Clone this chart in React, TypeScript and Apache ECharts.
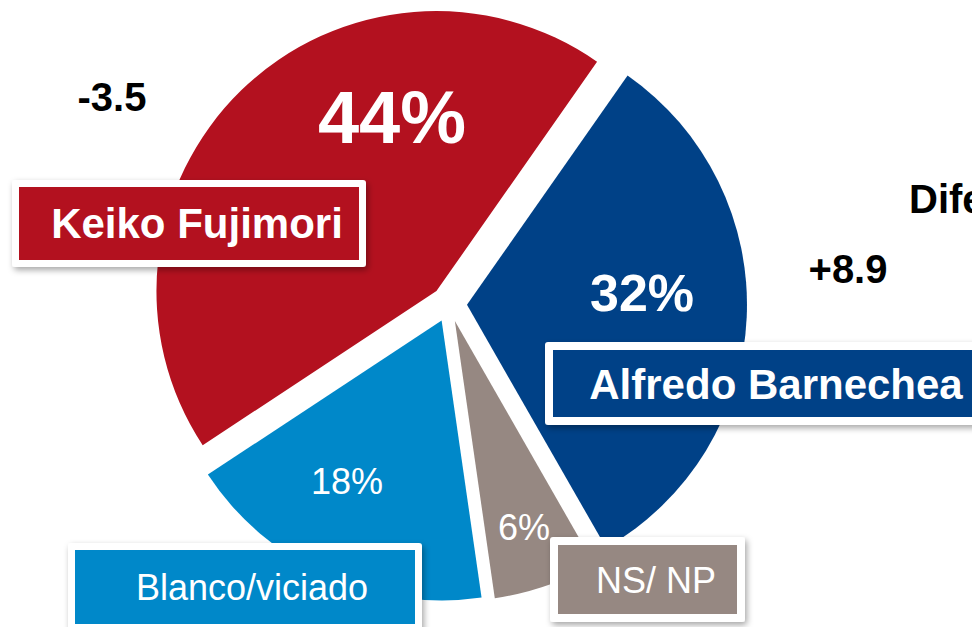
import React, { useEffect, useRef } from 'react';
import * as echarts from 'echarts';

// ---- data ----
const categories = ['Alfredo Barnechea', 'NS/ NP', 'Blanco/viciado', 'Keiko Fujimori'];
const shares = [32, 6, 18, 44];
const changeLabels = ['+8.9', '', '', '-3.5'];
const diffTitle = 'Diferencia';

// ---- styles / layout ----
const colors = ['#004187', '#968882', '#0088C9', '#B3111F'];
const FONT = '"Liberation Sans", Arial, Helvetica, sans-serif';
const pctFontSize = [52, 36, 36, 74];
const pctFontWeight = ['bold', 'normal', 'normal', 'bold'];
const pctPos: [number, number][] = [[642, 293], [524, 527], [347, 481], [392, 117]];

// name boxes: outer rect [x, y, w, h], border inset, text center x, text center y, font size, weight
const boxLayout = [
  { rect: [545, 342, 440, 83], inset: 8, tx: 776, ty: 384, fs: 42, fw: 'bold' },
  { rect: [550, 537, 195, 85], inset: 8, tx: 656, ty: 580, fs: 36, fw: 'normal' },
  { rect: [68, 543, 354, 88], inset: 7, tx: 252, ty: 587, fs: 36, fw: 'normal' },
  { rect: [12, 180, 354, 87], inset: 7, tx: 197, ty: 223, fs: 42, fw: 'bold' },
];
const changePos: [number, number][] = [[848, 269], [0, 0], [0, 0], [112, 97]];

function txt(x: number, y: number, text: string, fill: string, fs: number, fw: string, align = 'center') {
  return {
    type: 'text',
    z: 102,
    x,
    y,
    silent: true,
    style: {
      text,
      fill,
      fontSize: fs,
      fontWeight: fw,
      fontFamily: FONT,
      textAlign: align,
      textVerticalAlign: 'middle',
      align,
      verticalAlign: 'middle',
    },
  };
}

function buildOption() {
  const data = categories.map((name, i) => ({
    name,
    value: shares[i],
    selected: true,
    itemStyle: { color: colors[i] },
    select: { itemStyle: { color: colors[i] } },
  }));

  const graphics: any[] = [];
  categories.forEach((name, i) => {
    // percentage label
    graphics.push(txt(pctPos[i][0], pctPos[i][1], `${shares[i]}%`, '#ffffff', pctFontSize[i], pctFontWeight[i]));

    const b = boxLayout[i];
    const [x, y, w, h] = b.rect;
    graphics.push({
      type: 'rect',
      z: 100,
      shape: { x, y, width: w, height: h, r: 3 },
      style: {
        fill: '#ffffff',
        shadowBlur: 6,
        shadowOffsetX: 2,
        shadowOffsetY: 3,
        shadowColor: 'rgba(0,0,0,0.35)',
      },
      silent: true,
    });
    graphics.push({
      type: 'rect',
      z: 101,
      shape: { x: x + b.inset, y: y + b.inset, width: w - 2 * b.inset, height: h - 2 * b.inset },
      style: { fill: colors[i] },
      silent: true,
    });
    graphics.push(txt(b.tx, b.ty, name, '#ffffff', b.fs, b.fw));
    if (changeLabels[i]) {
      graphics.push(txt(changePos[i][0], changePos[i][1], changeLabels[i], '#000000', 40, 'bold'));
    }
  });
  graphics.push(txt(909, 199, diffTitle, '#000000', 40, 'bold', 'left'));

  return {
    animation: false,
    backgroundColor: '#ffffff',
    series: [
      {
        type: 'pie',
        center: [449, 304],
        radius: 280,
        startAngle: 55,
        clockwise: true,
        selectedMode: 'multiple',
        selectedOffset: 18,
        avoidLabelOverlap: false,
        emphasis: { disabled: true },
        silent: true,
        label: { show: false },
        labelLine: { show: false },
        data,
      },
    ],
    graphic: { elements: graphics },
  };
}

export default function App() {
  const ref = useRef<HTMLDivElement>(null);
  useEffect(() => {
    if (!ref.current) return;
    const chart = echarts.init(ref.current, null, { renderer: 'svg' });
    chart.setOption(buildOption() as any);
    return () => chart.dispose();
  }, []);
  return (
    <div
      ref={ref}
      style={{ position: 'fixed', left: 0, top: 0, width: 972, height: 627, background: '#ffffff' }}
    />
  );
}
